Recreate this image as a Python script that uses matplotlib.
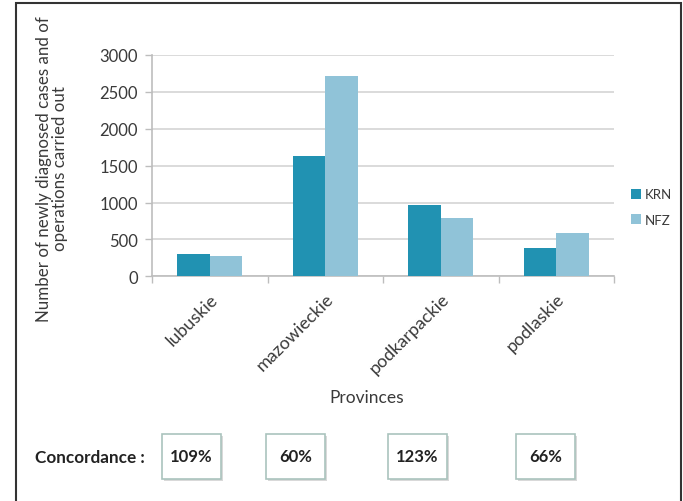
import matplotlib
matplotlib.use("Agg")
import matplotlib.pyplot as plt
from matplotlib.patches import Rectangle
from matplotlib.ticker import FixedLocator
import numpy as np

plt.rcParams['font.family'] = ['Lato', 'DejaVu Sans']

# ---- data ----
provinces = ["lubuskie", "mazowieckie", "podkarpackie", "podlaskie"]
krn = [302, 1627, 964, 387]
nfz = [271, 2711, 792, 585]
concordance = ["109%", "60%", "123%", "66%"]
series_names = ["KRN", "NFZ"]
yticks = [0, 500, 1000, 1500, 2000, 2500, 3000]

# ---- styles ----
C_KRN = "#2192b2"
C_NFZ = "#90c3d8"
TXT = "#3a3a3a"
W, H = 683, 502

fig = plt.figure(figsize=(W / 100, H / 100), dpi=100)
fig.patch.set_facecolor("white")

ax = fig.add_axes([152 / W, 1 - 277.3 / H, (614 - 152) / W, (277.3 - 56) / H])
x = np.arange(len(provinces))
bw = 0.283
ax.bar(x - bw / 2, krn, width=bw, color=C_KRN, label=series_names[0], zorder=3)
ax.bar(x + bw / 2, nfz, width=bw, color=C_NFZ, label=series_names[1], zorder=3)

ax.set_xlim(-0.5, len(provinces) - 0.5)
ax.set_ylim(0, 3000)
ax.set_yticks(yticks)
ax.set_yticklabels([str(v) for v in yticks], fontsize=12, color=TXT)
ax.yaxis.grid(True, color="#d4d4d4", linewidth=1.2, zorder=0)
ax.set_axisbelow(True)

ax.set_xticks(x)
ax.set_xticklabels(provinces, rotation=45, ha="right", va="top",
                   rotation_mode="anchor", fontsize=13, color=TXT)
ax.xaxis.set_minor_locator(FixedLocator(np.arange(-0.5, len(provinces), 1.0)))
ax.tick_params(axis="x", which="major", length=0, pad=10)
ax.tick_params(axis="x", which="minor", length=5, color="#bdbdbd", width=1)
ax.tick_params(axis="y", length=5, color="#bdbdbd", width=1, pad=5)

for s in ["top", "right"]:
    ax.spines[s].set_visible(False)
for s in ["left", "bottom"]:
    ax.spines[s].set_color("#bdbdbd")
    ax.spines[s].set_linewidth(1.2)

# y label
fig.text(52 / W, 1 - 169 / H,
         "Number of newly diagnosed cases and of\noperations carried out",
         rotation=90, ha="center", va="center", multialignment="center",
         fontsize=12.2, color=TXT, linespacing=1.05)

# x label
fig.text(367 / W, 1 - 398 / H, "Provinces", ha="center", va="center",
         fontsize=12.5, color=TXT)

# legend
ax.legend(loc="center left", bbox_to_anchor=(631 / W, 1 - 208 / H),
          bbox_transform=fig.transFigure, frameon=False, fontsize=9.5,
          borderpad=0, borderaxespad=0,
          handlelength=0.75, handleheight=0.8, handletextpad=0.3,
          labelspacing=1.0, labelcolor=TXT)

# concordance row
fig.text(35 / W, 1 - 458 / H, "Concordance :", ha="left", va="center",
         fontsize=12.3, fontweight="bold", color="#222222")
box_left = [162, 266, 388, 516]
bwid, bh, btop = 59, 45, 435
for xl, lab in zip(box_left, concordance):
    sh = Rectangle(((xl + 2) / W, 1 - (btop + bh + 2) / H), bwid / W, bh / H,
                   transform=fig.transFigure, facecolor="#d9d9d9",
                   edgecolor="none", zorder=1)
    fig.patches.append(sh)
    r = Rectangle((xl / W, 1 - (btop + bh) / H), bwid / W, bh / H,
                  transform=fig.transFigure, facecolor="white",
                  edgecolor="#aac3bd", linewidth=1.2, zorder=2)
    fig.patches.append(r)
    fig.text((xl + bwid / 2) / W, 1 - (btop + bh / 2) / H, lab,
             ha="center", va="center", fontsize=12, fontweight="bold",
             color="#222222", zorder=3)

# outer frame
frame = Rectangle((15.5 / W, -0.05), (681 - 15.5) / W, 1 - 3.5 / H + 0.05,
                  transform=fig.transFigure, facecolor="none",
                  edgecolor="#333333", linewidth=1.5, zorder=5)
fig.patches.append(frame)

fig.savefig("out.png", dpi=100)
